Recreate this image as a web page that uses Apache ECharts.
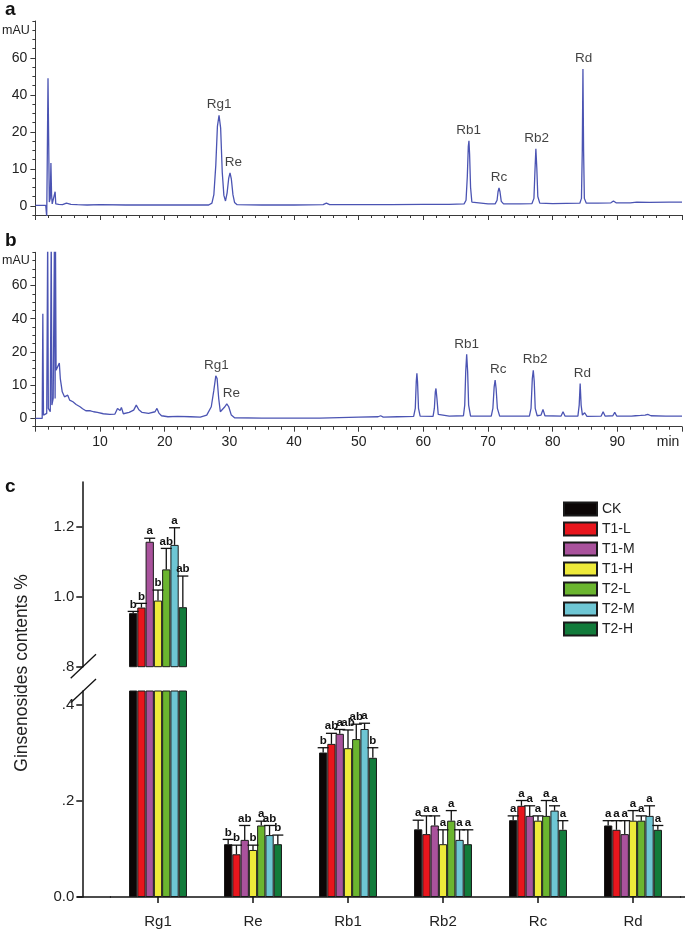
<!DOCTYPE html>
<html><head><meta charset="utf-8">
<script src="https://cdn.jsdelivr.net/npm/echarts@6/dist/echarts.min.js"></script>
<style>html,body{margin:0;padding:0;background:#fff}#c{width:685px;height:931px}</style>
</head><body><div id="c"></div>
<script>
// ---------- Panel a / b chromatogram data: [time (min), absorbance (mAU)] ----------
const chromA = [
[0,0.1],[1.6,0.1],[1.75,-3],[1.85,15],[1.95,49],[2.05,18],[2.15,1],[2.3,2],[2.4,11.6],[2.5,3],[2.6,0.5],[2.9,0.6],[3.05,3.8],[3.15,0.5],[3.6,0.4],[4.2,0.3],[4.8,0.7],[5.1,0.9],[5.5,0.4],[6.5,0.3],[8,0.2],[10,0.3],[14,0.2],[18,0.2],[22,0.2],[25,0.2],[26.8,0.2],[27.3,0.7],[27.6,3],[27.9,11],[28.15,23],[28.4,29],[28.65,22],[28.9,9],[29.15,2.8],[29.4,1.3],[29.65,3.5],[29.9,7.5],[30.1,8.9],[30.3,7.3],[30.55,3],[30.8,0.9],[31.2,0.3],[35,0.2],[40,0.2],[44.5,0.3],[45,0.7],[45.5,0.3],[50,0.3],[55,0.3],[60,0.4],[64,0.4],[66.3,0.5],[66.6,1.5],[66.8,8],[66.95,16],[67.05,17.6],[67.15,14],[67.3,5],[67.5,1],[67.8,0.5],[70,0.5],[71.1,0.5],[71.4,1.5],[71.55,3.8],[71.7,4.8],[71.85,3.8],[72.05,1.2],[72.4,0.5],[75,0.5],[76.8,0.6],[77.1,2],[77.25,9],[77.4,15.4],[77.55,10],[77.7,2.5],[78,0.7],[80,0.6],[84.2,0.7],[84.45,2],[84.58,15],[84.68,54],[84.78,15],[84.9,2],[85.2,0.7],[87,0.7],[89,0.8],[89.4,1.3],[89.8,0.8],[92,0.8],[93,1.0],[95,0.9],[98,1.0],[100,1.0]
];
const chromB = [
[0,0],[1.05,0],[1.15,43],[1.25,1],[1.5,0.5],[1.75,1.5],[1.9,90],[2.0,3],[2.3,2],[2.45,90],[2.55,4],[2.75,6],[2.95,90],[3.05,6],[3.1,90],[3.2,14.5],[3.45,14],[3.7,16.7],[3.85,12],[4.0,10],[4.15,8],[4.3,8.5],[4.5,6.5],[4.8,6.5],[5.0,7],[5.3,5.5],[5.8,5],[6.3,4.2],[6.6,4.7],[6.9,3.5],[7.3,2.9],[7.8,2.3],[8.5,2.3],[9.0,2.0],[9.3,2.6],[9.6,1.8],[10.5,1.4],[11.5,1.2],[12.3,1.3],[12.7,3.0],[12.9,3.2],[13.1,2.4],[13.3,3.3],[13.6,1.4],[14.5,1.8],[15.2,2.5],[15.6,4.0],[16.0,2.6],[16.5,1.8],[17.5,1.5],[18.5,2.0],[18.8,3.0],[19.1,1.6],[19.5,0.8],[20.5,0.5],[22,0.6],[24,0.5],[25.5,0.4],[26.5,1.0],[27.2,3.5],[27.6,8.5],[27.9,12.8],[28.1,12],[28.35,6],[28.6,2],[28.9,1.6],[29.3,3.5],[29.6,4.4],[29.9,3.5],[30.3,1.0],[30.8,0.2],[35,0.1],[40,0.1],[44,0.1],[44.3,0.4],[50,0.4],[53,0.5],[53.4,0.8],[53.8,0.4],[56,0.5],[58.5,0.6],[58.75,3],[58.9,11],[59.0,13.6],[59.1,11],[59.25,3],[59.5,0.7],[61.5,0.6],[61.7,3],[61.85,8],[61.95,9],[62.1,6],[62.3,1.2],[62.6,0.6],[64,0.7],[66.2,0.8],[66.4,4],[66.55,14],[66.7,19.3],[66.85,14],[67.0,4],[67.3,0.7],[70.5,0.7],[70.75,3],[70.95,9.5],[71.1,11.5],[71.25,9],[71.45,3],[71.8,0.7],[76.4,0.7],[76.65,3],[76.85,12],[77.0,14.5],[77.15,11],[77.3,3],[77.6,0.8],[78.2,1],[78.5,2.7],[78.8,0.8],[81.3,0.7],[81.6,2.0],[81.9,0.7],[83.9,0.7],[84.1,4],[84.25,10.5],[84.4,4],[84.6,1],[84.95,1.7],[85.3,0.6],[87.5,0.7],[87.8,2.0],[88.1,0.7],[89.3,0.8],[89.6,1.8],[89.9,0.7],[92.2,0.7],[92.5,1.0],[92.8,0.8],[93.6,0.9],[93.9,1.4],[94.3,1.0],[94.7,1.2],[95.2,0.8],[97.5,0.7],[97.8,1.0],[98.2,0.7],[100,0.7]
];
// peak labels (name, time, height of peak apex)
const peakNames = ['Rg1','Re','Rb1','Rc','Rb2','Rd'];
const peakTimesA = [28.4, 30.6, 67.0, 71.7, 77.5, 84.8];
const peakHeightsA = [29, 8.9, 17.6, 4.8, 15.4, 54];
const peakTimesB = [28.0, 30.3, 66.7, 71.6, 77.3, 84.6];
const peakHeightsB = [12.8, 4.4, 19.3, 11.5, 14.5, 10.5];
// chromatogram y tick labels (mAU), evenly placed on the instrument's scale
const mauTickLabels = ['0','10','20','40','60'];
const minTickLabels = [10,20,30,40,50,60,70,80,90];

// ---------- Panel c data ----------
const categories = ['Rg1','Re','Rb1','Rb2','Rc','Rd'];
const groups = ['CK','T1-L','T1-M','T1-H','T2-L','T2-M','T2-H'];
const colors = ['#0b0606','#e8161d','#a9529c','#eeea3a','#6bb52f','#6ec6d4','#127b3b'];
const valCK  = [0.953, 0.110, 0.301, 0.141, 0.160, 0.149];
const valT1L = [0.969, 0.089, 0.319, 0.131, 0.190, 0.140];
const valT1M = [1.157, 0.119, 0.340, 0.149, 0.169, 0.131];
const valT1H = [0.989, 0.098, 0.310, 0.110, 0.159, 0.159];
const valT2L = [1.078, 0.149, 0.329, 0.159, 0.169, 0.159];
const valT2M = [1.148, 0.129, 0.350, 0.119, 0.180, 0.169];
const valT2H = [0.970, 0.110, 0.290, 0.110, 0.140, 0.140];
const errCK  = [0.005, 0.010, 0.010, 0.019, 0.009, 0.010];
const errT1L = [0.012, 0.019, 0.022, 0.038, 0.011, 0.019];
const errT1M = [0.010, 0.030, 0.009, 0.020, 0.021, 0.028];
const errT1H = [0.030, 0.010, 0.038, 0.030, 0.010, 0.021];
const errT2L = [0.060, 0.009, 0.031, 0.021, 0.032, 0.010];
const errT2M = [0.049, 0.020, 0.012, 0.021, 0.010, 0.021];
const errT2H = [0.089, 0.019, 0.021, 0.030, 0.019, 0.009];
const letCK  = ['b','b','b','a','a','a'];
const letT1L = ['b','b','ab','a','a','a'];
const letT1M = ['a','ab','a','a','a','a'];
const letT1H = ['b','b','ab','a','a','a'];
const letT2L = ['ab','a','ab','a','a','a'];
const letT2M = ['a','ab','a','a','a','a'];
const letT2H = ['ab','b','b','a','a','a'];
const yTicksUpper = [0.8, 1.0, 1.2];
const yTicksLower = [0, 0.2, 0.4];

const values = [valCK,valT1L,valT1M,valT1H,valT2L,valT2M,valT2H];
const errs = [errCK,errT1L,errT1M,errT1H,errT2L,errT2M,errT2H];
const lets = [letCK,letT1L,letT1M,letT1H,letT2L,letT2M,letT2H];

// instrument's piecewise mAU scale: 0-20 linear, then 20 per step
const tf = v => v <= 20 ? v / 10 : 2 + (v - 20) / 20;

const chart = echarts.init(document.getElementById('c'), null, {renderer: 'canvas'});
const FONT = 'Liberation Sans, Arial, sans-serif';
const LINE = '#4b54b3';
const AX = '#3a3a3a';

const UP_MIN = 0.8, BREAK_FRAC = 0.61;
const gridA = {left: 35.4, right: 3, top: 21, height: 194};
const gridB = {left: 35.4, right: 3, top: 252.3, height: 174.4};
const gridU = {left: 110.5, right: 4.5, top: 482, height: 184.7};
const gridL = {left: 110.5, right: 4.5, top: 691, height: 206};

const minorYTicks = []; for (let k = -1; k <= 20; k++) minorYTicks.push(k * 0.25);

function chromY(gi) {
  return [{
    type: 'value', gridIndex: gi, min: -0.25, max: 5, position: 'left',
    axisLine: {show: true, lineStyle: {color: AX, width: 1}},
    axisTick: {show: true, length: 5, customValues: [0,1,2,3,4], lineStyle: {color: AX}},
    axisLabel: {customValues: [0,1,2,3,4], formatter: v => mauTickLabels[Math.round(v)], fontSize: 14, color: '#222', fontFamily: FONT, margin: 8},
    splitLine: {show: false}
  }, {
    type: 'value', gridIndex: gi, min: -0.25, max: 5, position: 'left',
    axisLine: {show: false},
    axisTick: {show: true, length: 3, customValues: minorYTicks, lineStyle: {color: AX}},
    axisLabel: {show: false}, splitLine: {show: false}
  }];
}
function chromX(gi, showLabels) {
  return {
    type: 'value', gridIndex: gi, min: 0, max: 100, interval: 10,
    axisLine: {show: true, onZero: false, lineStyle: {color: AX, width: 1}},
    axisTick: {show: true, length: 5, lineStyle: {color: AX}},
    minorTick: {show: true, splitNumber: 5, length: 3, lineStyle: {color: AX}},
    axisLabel: showLabels ? {
      show: true, fontSize: 14, color: '#222', fontFamily: FONT, margin: 8, showMaxLabel: true, showMinLabel: true,
      formatter: v => v === 0 ? '' : (v === 100 ? '{m|min}' : (minTickLabels.indexOf(v) >= 0 ? String(v) : '')),
      rich: {m: {fontSize: 14, color: '#222', fontFamily: FONT, padding: [0, 28, 0, 0]}}
    } : {show: false},
    splitLine: {show: false}
  };
}

function fmtC(v) {
  if (Math.abs(v) < 1e-9) return '0.0';
  const s = v.toFixed(1);
  return v < 1 ? s.replace(/^0/, '') : s;
}
function barY(gi, min, max, ticks) {
  return {
    type: 'value', gridIndex: gi, min: min, max: max, offset: 28.2,
    axisLine: {show: true, lineStyle: {color: '#111', width: 1.5}},
    axisTick: {show: true, length: 6, customValues: ticks, lineStyle: {color: '#111', width: 1.5}},
    axisLabel: {customValues: ticks, formatter: fmtC, fontSize: 15, color: '#222', fontFamily: FONT, margin: 8},
    splitLine: {show: false}
  };
}

const series = [];
series.push({type: 'line', xAxisIndex: 0, yAxisIndex: 0, data: chromA.map(p => [p[0], tf(p[1])]),
  showSymbol: false, symbol: 'none', lineStyle: {color: LINE, width: 1.3}, clip: true, z: 3});
series.push({type: 'line', xAxisIndex: 1, yAxisIndex: 2, data: chromB.map(p => [p[0], tf(p[1])]),
  showSymbol: false, symbol: 'none', lineStyle: {color: LINE, width: 1.3}, clip: true, z: 3});
function peakLabels(xi, yi, times, heights) {
  return {type: 'scatter', xAxisIndex: xi, yAxisIndex: yi, symbolSize: 1, itemStyle: {color: 'rgba(0,0,0,0)'},
    data: peakNames.map((n, i) => ({name: n, value: [times[i], tf(heights[i])]})),
    label: {show: true, position: 'top', distance: 3, formatter: p => p.name, fontSize: 13.5, color: '#111', fontFamily: FONT}, z: 4};
}
series.push(peakLabels(0, 0, peakTimesA, peakHeightsA));
series.push(peakLabels(1, 2, peakTimesB, peakHeightsB));

groups.forEach((g, i) => {
  const common = {type: 'bar', name: g, barGap: '0%', barCategoryGap: ((1 - BREAK_FRAC) * 100) + '%',
    itemStyle: {color: colors[i], borderColor: '#1a1a1a', borderWidth: 1}, clip: true, animation: false};
  series.push(Object.assign({}, common, {xAxisIndex: 2, yAxisIndex: 4, data: values[i].map(v => v >= UP_MIN ? v : '-')}));
  series.push(Object.assign({}, common, {xAxisIndex: 3, yAxisIndex: 5, data: values[i].slice()}));
});

function errData(upper) {
  const d = [], l = [];
  groups.forEach((g, i) => categories.forEach((c, j) => {
    const v = values[i][j];
    if ((v >= UP_MIN) === upper) { d.push([j, i, v, v + errs[i][j]]); l.push(lets[i][j]); }
  }));
  return {d, l};
}
function errSeries(xi, yi, upper) {
  const ed = errData(upper);
  return {
    type: 'custom', xAxisIndex: xi, yAxisIndex: yi, data: ed.d, z: 10,
    encode: {x: 0, y: 3},
    renderItem: (params, api) => {
      const cat = api.value(0), gi = api.value(1);
      const band = api.size([1, 0])[0];
      const bw = band * BREAK_FRAC / groups.length;
      const top = api.coord([cat, api.value(3)]);
      const mid = api.coord([cat, api.value(2)]);
      const cx = top[0] + (gi - (groups.length - 1) / 2) * bw;
      const st = {stroke: '#111', lineWidth: 1.3};
      return {type: 'group', children: [
        {type: 'line', shape: {x1: cx, y1: mid[1], x2: cx, y2: top[1]}, style: st},
        {type: 'line', shape: {x1: cx - 5.5, y1: top[1], x2: cx + 5.5, y2: top[1]}, style: st},
        {type: 'text', x: cx, y: top[1] - 1, style: {text: ed.l[params.dataIndex], fill: '#111', font: 'bold 11.5px ' + FONT, textAlign: 'center', textVerticalAlign: 'bottom'}}
      ]};
    }
  };
}
series.push(errSeries(2, 4, true));
series.push(errSeries(3, 5, false));

const catX = gi => ({
  type: 'category', gridIndex: gi, data: categories,
  axisLine: {show: gi === 3, lineStyle: {color: '#111', width: 1.5}},
  axisTick: {show: gi === 3, alignWithLabel: true, length: 6, lineStyle: {color: '#111', width: 1.5}},
  axisLabel: {show: gi === 3, fontSize: 15, color: '#222', fontFamily: FONT, margin: 17},
  splitLine: {show: false}
});

const upperMax = UP_MIN + gridU.height / 350;
const lowerMax = gridL.height / 480;

const option = {
  animation: false,
  backgroundColor: '#fff',
  grid: [gridA, gridB, gridU, gridL],
  xAxis: [chromX(0, false), chromX(1, true), catX(2), catX(3)],
  yAxis: [...chromY(0), ...chromY(1), barY(2, UP_MIN, upperMax, yTicksUpper), barY(3, 0, lowerMax, yTicksLower)],
  legend: {
    data: groups, orient: 'vertical', left: 558, top: 496.5, itemWidth: 33, itemHeight: 13, itemGap: 5,
    icon: 'rect', selectedMode: false,
    textStyle: {fontSize: 14, color: '#222', fontFamily: FONT, padding: [0, 0, 0, 0]}
  },
  graphic: [
    {type: 'text', x: 5, y: 0, style: {text: 'a', font: 'bold 19px ' + FONT, fill: '#111'}},
    {type: 'text', x: 5, y: 231, style: {text: 'b', font: 'bold 19px ' + FONT, fill: '#111'}},
    {type: 'text', x: 5, y: 477, style: {text: 'c', font: 'bold 19px ' + FONT, fill: '#111'}},
    {type: 'text', x: 2, y: 24, style: {text: 'mAU', font: '12.5px ' + FONT, fill: '#222'}},
    {type: 'text', x: 2, y: 254, style: {text: 'mAU', font: '12.5px ' + FONT, fill: '#222'}},
    {type: 'text', x: 22, y: 673, rotation: Math.PI / 2, style: {text: 'Ginsenosides contents %', font: '17.5px ' + FONT, fill: '#222', textAlign: 'center', textVerticalAlign: 'middle'}},
    // axis break marks and x-axis line extension
    {type: 'line', shape: {x1: 70.7, y1: 678.3, x2: 96, y2: 654.3}, style: {stroke: '#111', lineWidth: 1.3}},
    {type: 'line', shape: {x1: 70.7, y1: 702.7, x2: 96, y2: 679}, style: {stroke: '#111', lineWidth: 1.3}},
    {type: 'line', shape: {x1: 77, y1: 897, x2: 111, y2: 897}, style: {stroke: '#111', lineWidth: 1.5}},
    {type: 'line', shape: {x1: 680, y1: 897, x2: 685, y2: 897}, style: {stroke: '#111', lineWidth: 1.5}}
  ],
  series: series
};
chart.setOption(option);
</script></body></html>
